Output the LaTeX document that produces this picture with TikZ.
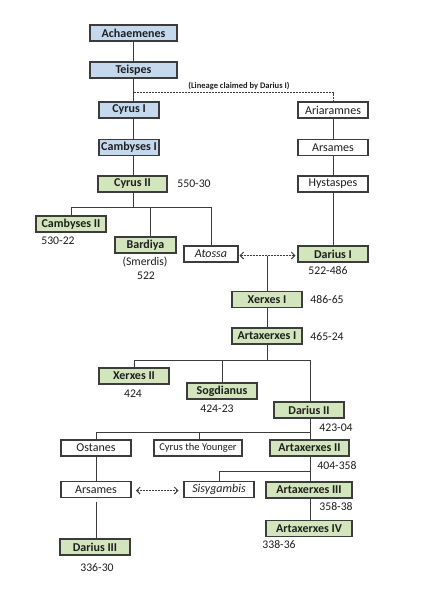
\documentclass[tikz,border=0pt]{standalone}
\usepackage{fontspec}
\setmainfont{Carlito}
\usetikzlibrary{arrows.meta}
\definecolor{bluefill}{HTML}{C5D9EE}
\definecolor{greenfill}{HTML}{D3E5BC}
\definecolor{edge}{HTML}{3C3C3C}
\definecolor{ink}{HTML}{1E1E1E}
\tikzset{
  box/.style={draw=edge, line width=1.2pt, minimum height=16pt, inner sep=0pt, text=ink,
    font=\fontsize{12}{12}\selectfont},
  bluebox/.style={box, fill=bluefill, font=\fontsize{12}{12}\selectfont\bfseries},
  greenbox/.style={box, fill=greenfill, font=\fontsize{12}{12}\selectfont\bfseries},
  plainbox/.style={box, fill=white},
  datelbl/.style={inner sep=0pt, text=ink, font=\fontsize{11.7}{12}\selectfont},
  link/.style={draw=edge, line width=0.9pt},
  dotlink/.style={draw=edge, line width=0.9pt, dash pattern=on 2pt off 1pt},
  dotarrow/.style={dotlink, {Straight Barb[length=3.5pt,width=7pt]}-{Straight Barb[length=3.5pt,width=7pt]}}
}
\begin{document}
\begin{tikzpicture}[x=1pt,y=-1pt]
\useasboundingbox[fill=white] (0,0) rectangle (430,600);
% nodes
\node[bluebox, minimum width=87pt] (ach) at (133.5,33) {Achaemenes};
\node[bluebox, minimum width=87pt] (tei) at (133.5,70) {Teispes};
\node[bluebox, minimum width=60pt] (cyr1) at (129,110) {Cyrus I};
\node[bluebox, minimum width=60pt] (camb1) at (129,147.5) {Cambyses I};
\node[greenbox, minimum width=69pt] (cyr2) at (132.5,184) {Cyrus II};
\node[plainbox, minimum width=70pt] (aria) at (333,110) {Ariaramnes};
\node[plainbox, minimum width=70pt] (ars1) at (333,147.5) {Arsames};
\node[plainbox, minimum width=70pt] (hys) at (333,184) {Hystaspes};
\node[greenbox, minimum width=70pt] (camb2) at (71,224) {Cambyses II};
\node[greenbox, minimum width=61pt] (bard) at (145.5,245) {Bardiya};
\node[plainbox, minimum width=54pt, font=\fontsize{12}{12}\selectfont\itshape] (atos) at (211,254) {Atossa};
\node[greenbox, minimum width=70pt] (dar1) at (333,254) {Darius I};
\node[greenbox, minimum width=70pt] (xer1) at (267,299.5) {Xerxes I};
\node[greenbox, minimum width=70pt] (art1) at (267,336) {Artaxerxes I};
\node[greenbox, minimum width=70pt] (xer2) at (134,376) {Xerxes II};
\node[greenbox, minimum width=70pt] (sogd) at (222,391) {Sogdianus};
\node[greenbox, minimum width=70pt] (dar2) at (309,410) {Darius II};
\node[plainbox, minimum width=70pt] (ost) at (96,448) {Ostanes};
\node[plainbox, minimum width=88pt, font=\fontsize{10.5}{11}\selectfont] (cyy) at (198,448) {Cyrus the Younger};
\node[greenbox, minimum width=79pt] (art2) at (309.5,448) {Artaxerxes II};
\node[plainbox, minimum width=70pt] (ars2) at (96,489.5) {Arsames};
\node[plainbox, minimum width=70pt, font=\fontsize{12}{12}\selectfont\itshape] (sisy) at (219,489.5) {Sisygambis};
\node[greenbox, minimum width=86pt] (art3) at (309,490) {Artaxerxes III};
\node[greenbox, minimum width=86pt] (art4) at (309,528.5) {Artaxerxes IV};
\node[greenbox, minimum width=70pt] (dar3) at (95,547) {Darius III};
% labels
\node[datelbl] (d1) at (194,184) {550-30};
\node[datelbl] (d2) at (58,241) {530-22};
\node[datelbl] (smer) at (145,262) {(Smerdis)};
\node[datelbl] (d3) at (146,275.5) {522};
\node[datelbl] (d4) at (328,271) {522-486};
\node[datelbl] (d5) at (327,299.5) {486-65};
\node[datelbl] (d6) at (327,336.5) {465-24};
\node[datelbl] (d7) at (133,393.5) {424};
\node[datelbl] (d8) at (217,408.5) {424-23};
\node[datelbl] (d9) at (336,427.5) {423-04};
\node[datelbl] (d10) at (337,466) {404-358};
\node[datelbl] (d11) at (336,507) {358-38};
\node[datelbl] (d12) at (279,545) {338-36};
\node[datelbl] (d13) at (97,568) {336-30};
\node[inner sep=0pt, text=ink, font=\fontsize{8.5}{9}\selectfont\bfseries] (lin) at (239,86) {(Lineage claimed by Darius I)};
% junction coordinates
\coordinate (jl) at (133.5,92.5);
\coordinate (j1) at (133,207.5);
\coordinate (j2) at (267,255.5);
\coordinate (j3) at (267,360.5);
\coordinate (j4) at (310,432.5);
\coordinate (j5) at (310,471);
\coordinate (a1) at (239.5,255.5);
\coordinate (a2) at (295.5,255.5);
\coordinate (b1) at (136,490.5);
\coordinate (b2) at (178.5,490.5);
\coordinate (s1) at (96,502);
% connectors
\draw[link] (ach.south) -- (tei.north);
\draw[link] (tei.south) -- (tei.south |- cyr1.north);
\draw[dotlink] (jl) -| (aria.north);
\draw[link] (tei.south |- cyr1.south) -- (tei.south |- camb1.north);
\draw[link] (tei.south |- camb1.south) -- (tei.south |- cyr2.north);
\draw[link] (aria.south) -- (ars1.north);
\draw[link] (ars1.south) -- (hys.north);
\draw[link] (hys.south) -- (dar1.north);
\draw[link] (j1 |- cyr2.south) -- (j1);
\draw[link] (camb2.north -| 71,0) -- (71,207.5) -- (211,207.5) -- (211,0 |- atos.north);
\draw[link] (150,207.5) -- (150,0 |- bard.north);
\draw[dotarrow] (a1) -- (a2);
\draw[link] (j2) -- (xer1.north);
\draw[link] (xer1.south) -- (art1.north);
\draw[link] (art1.south) -- (j3);
\draw[link] (xer2.north -| 134,0) -- (134,360.5) -- (310,360.5) -- (310,0 |- dar2.north);
\draw[link] (222,360.5) -- (222,0 |- sogd.north);
\draw[link] (310,0 |- dar2.south) -- (j4);
\draw[link] (96,0 |- ost.north) -- (96,432.5) -- (j4) -- (310,0 |- art2.north);
\draw[link] (199,432.5) -- (199,0 |- cyy.north);
\draw[link] (310,0 |- art2.south) -- (j5);
\draw[link] (219,0 |- sisy.north) -- (219,471) -- (j5) -- (310,0 |- art3.north);
\draw[link] (310,0 |- art3.south) -- (310,0 |- art4.north);
\draw[link] (ost.south) -- (ars2.north);
\draw[link] (s1) -- (s1 |- dar3.north);
\draw[dotarrow] (b1) -- (b2);
\end{tikzpicture}
\end{document}
